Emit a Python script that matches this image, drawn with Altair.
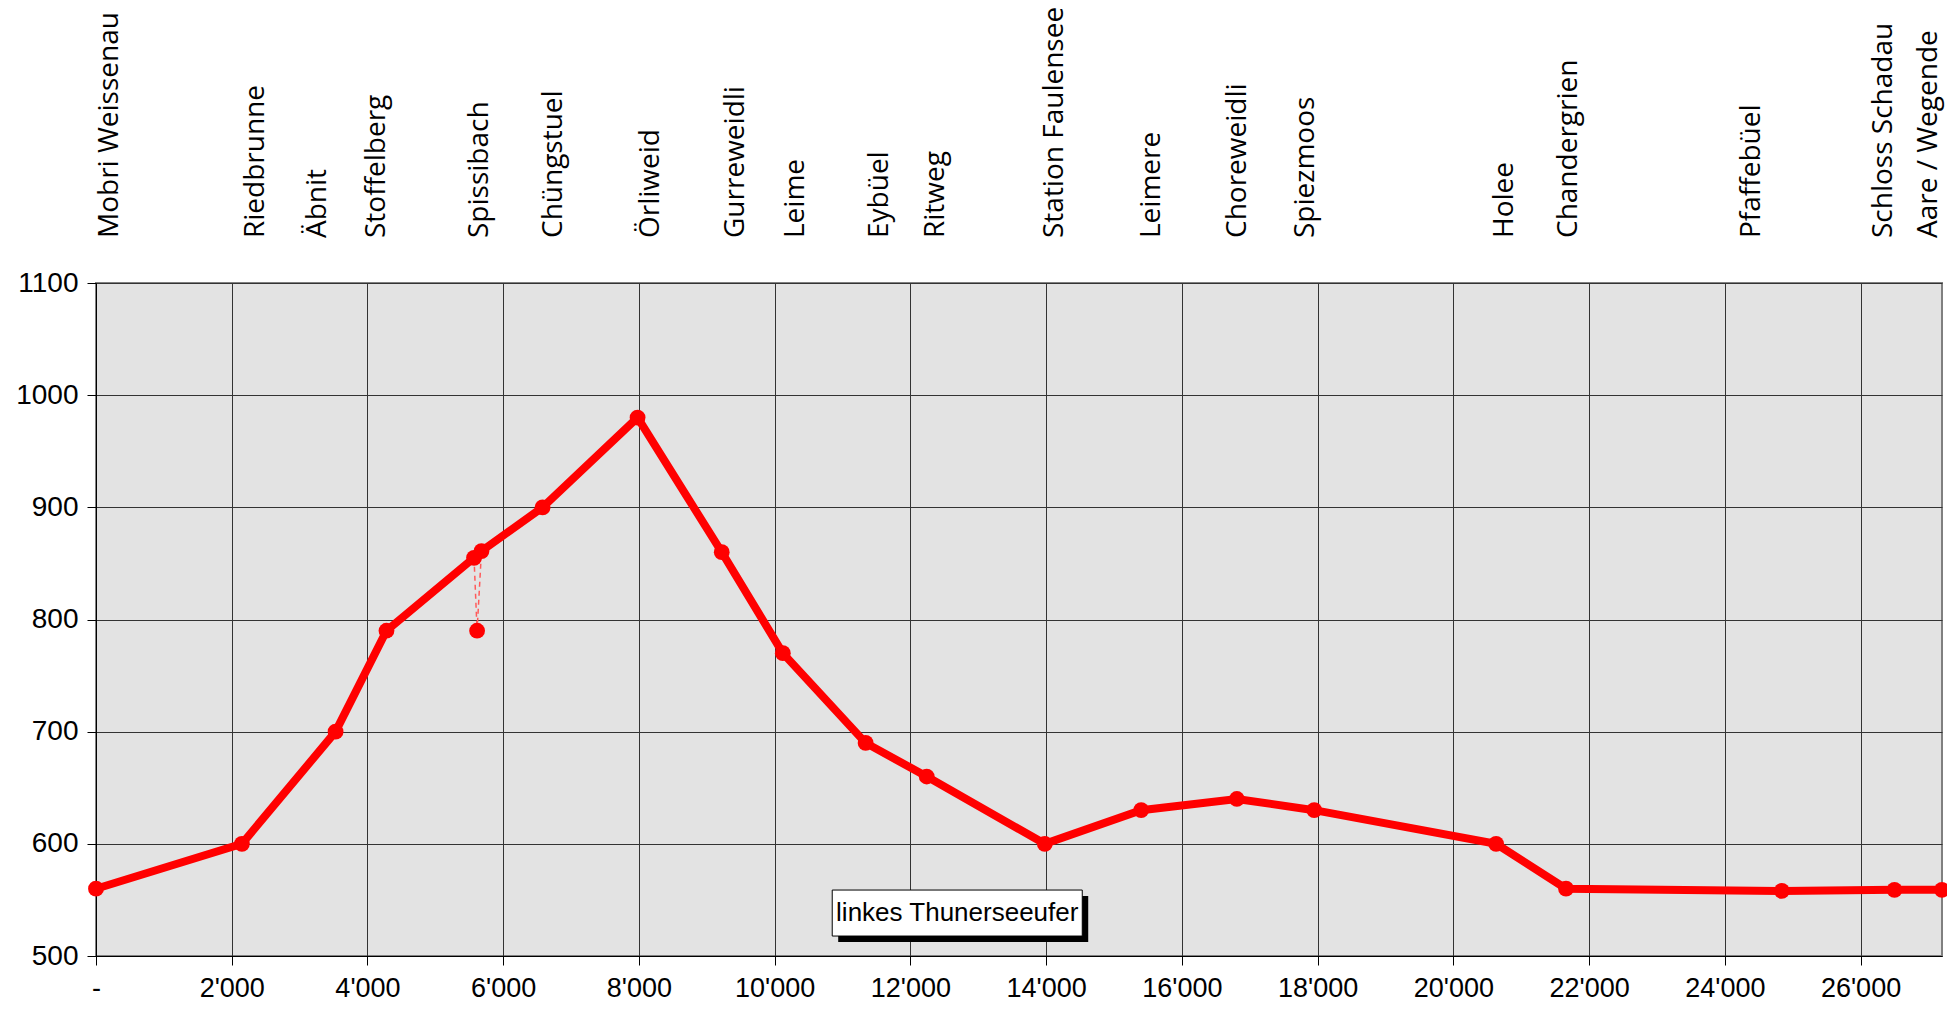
import altair as alt
import pandas as pd

# Route profile (distance in m, altitude in m)
route_km = [0, 2150, 3530, 4280, 5570, 5680, 6580, 7980, 9220, 10120, 11340,
            12240, 13980, 15400, 16810, 17950, 20630, 21660, 24840, 26500, 27200]
route_alt = [560, 600, 700, 790, 855, 861, 900, 980, 860, 770, 690,
             660, 600, 630, 640, 630, 600, 560, 558, 559, 559]

# Spur to the side point at Spissibach
spur_km = [5570, 5615, 5680]
spur_alt = [855, 790, 861]
side_km = [5615]
side_alt = [790]

# Station names (top labels) and their positions along the route
label_names = ["Mobri Weissenau", "Riedbrunne", "Äbnit", "Stoffelberg", "Spissibach",
               "Chüngstuel", "Örliweid", "Gurreweidli", "Leime", "Eybüel", "Ritweg",
               "Station Faulensee", "Leimere", "Choreweidli", "Spiezmoos", "Holee",
               "Chandergrien", "Pfaffebüel", "Schloss Schadau", "Aare / Wegende"]
label_km = [202, 2352, 3271, 4134, 5659, 6743, 8176, 9426, 10307, 11557, 12384,
            14129, 15563, 16830, 17823, 20763, 21700, 24401, 26349, 27010]

x_ticks = list(range(0, 26001, 2000))
y_ticks = list(range(500, 1101, 100))

# Annotation box
note_text = ["linkes Thunerseeufer"]
note_box = {"x": [10848], "x2": [14532], "y": [558.8], "y2": [517.8]}
note_shadow = {"x": [10936], "x2": [14620], "y": [553.5], "y2": [512.5]}

route = pd.DataFrame({"km": route_km, "alt": route_alt})
spur = pd.DataFrame({"km": spur_km, "alt": spur_alt})
side = pd.DataFrame({"km": side_km, "alt": side_alt})
labels = pd.DataFrame({"name": label_names, "km": label_km})
box = pd.DataFrame(note_box)
shadow = pd.DataFrame(note_shadow)
note = pd.DataFrame({"text": note_text,
                     "x": [(note_box["x"][0] + note_box["x2"][0]) / 2],
                     "y": [(note_box["y"][0] + note_box["y2"][0]) / 2]})

xscale = alt.Scale(domain=[0, 27200], nice=False, zero=False)
yscale = alt.Scale(domain=[500, 1100], nice=False, zero=False)

xaxis = alt.Axis(values=x_ticks, title=None, grid=True, gridColor="#333333", gridWidth=1,
                 domainColor="#000000", tickColor="#000000", tickSize=9,
                 labelFont="Liberation Sans", labelFontSize=27, labelColor="#000000",
                 labelPadding=10, labelFlush=False,
                 labelExpr="datum.value == 0 ? '-' : replace(format(datum.value, ','), ',', \"'\")")
yaxis = alt.Axis(values=y_ticks, title=None, grid=True, gridColor="#333333", gridWidth=1,
                 domainColor="#000000", tickColor="#000000", tickSize=9, format="d",
                 labelFont="Liberation Sans", labelFontSize=28, labelColor="#000000",
                 labelPadding=9, labelFlush=False)

line = alt.Chart(route).mark_line(color="#ff0000", strokeWidth=8).encode(
    x=alt.X("km:Q", scale=xscale, axis=xaxis),
    y=alt.Y("alt:Q", scale=yscale, axis=yaxis),
    order="km:Q",
)
points = alt.Chart(route).mark_circle(color="#ff0000", size=250, opacity=1).encode(
    x=alt.X("km:Q", scale=xscale), y=alt.Y("alt:Q", scale=yscale)
)
spur_line = alt.Chart(spur).mark_line(color="#ff5a5a", strokeWidth=1.5, strokeDash=[5, 4]).encode(
    x=alt.X("km:Q", scale=xscale), y=alt.Y("alt:Q", scale=yscale), order=alt.Order("km:Q")
)
side_pt = alt.Chart(side).mark_circle(color="#ff0000", size=250, opacity=1).encode(
    x=alt.X("km:Q", scale=xscale), y=alt.Y("alt:Q", scale=yscale)
)
top_labels = alt.Chart(labels).mark_text(
    angle=270, align="left", baseline="middle", font="Open Sans", fontSize=28, color="#000000"
).encode(
    x=alt.X("km:Q", scale=xscale), y=alt.value(-45), text="name:N"
)
shadow_rect = alt.Chart(shadow).mark_rect(color="#000000").encode(
    x=alt.X("x:Q", scale=xscale), x2="x2:Q", y=alt.Y("y:Q", scale=yscale), y2="y2:Q"
)
box_rect = alt.Chart(box).mark_rect(fill="#ffffff", stroke="#000000", strokeWidth=1).encode(
    x=alt.X("x:Q", scale=xscale), x2="x2:Q", y=alt.Y("y:Q", scale=yscale), y2="y2:Q"
)
note_mark = alt.Chart(note).mark_text(
    font="Liberation Sans", fontSize=26, color="#000000", align="center", baseline="middle"
).encode(
    x=alt.X("x:Q", scale=xscale), y=alt.Y("y:Q", scale=yscale), text="text:N"
)

chart = alt.layer(
    line, spur_line, points, side_pt, top_labels, shadow_rect, box_rect, note_mark
).properties(
    width=1846, height=673,
    autosize=alt.AutoSizeParams(type="none"),
    padding={"left": 88, "top": 275, "right": 5, "bottom": 47},
    background="#ffffff",
).configure_view(
    fill="#e3e3e3", stroke="#808080", strokeWidth=2
)

chart.save("out.html", embed_options={"renderer": "svg", "actions": False})
